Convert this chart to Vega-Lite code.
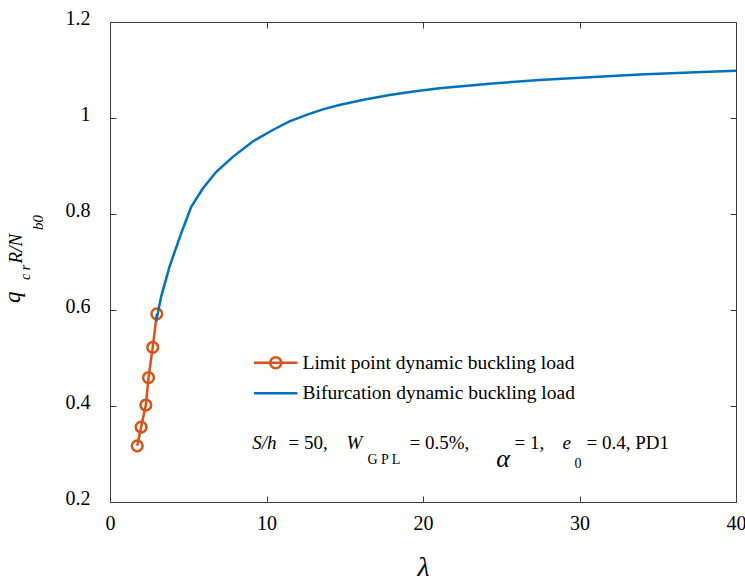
{
  "$schema": "https://vega.github.io/schema/vega-lite/v6.json",
  "autosize": {"type": "none"},
  "padding": {"left": 110, "top": 22, "right": 9, "bottom": 78},
  "width": 626,
  "height": 480,
  "background": "white",
  "config": {
    "view": {"stroke": null},
    "font": "Liberation Serif, Times New Roman, serif",
    "axis": {"grid": false, "labelFlush": false, "labelOverlap": false, "labelBound": false, "domainColor": "#3a3a3a", "tickColor": "#3a3a3a", "domainWidth": 1, "tickWidth": 1, "labelFont": "Liberation Serif, Times New Roman, serif", "labelFontSize": 20, "labelColor": "#000000", "titleFont": "Liberation Serif, Times New Roman, serif", "titleColor": "#000000", "titleFontWeight": "normal"},
    "legend": {"labelFont": "Liberation Serif, Times New Roman, serif"},
    "text": {"font": "Liberation Serif, Times New Roman, serif"}
  },
  "datasets": {
    "limit": [
      {"lam": 1.74, "q": 0.317, "series": "Limit point dynamic buckling load"},
      {"lam": 1.99, "q": 0.356, "series": "Limit point dynamic buckling load"},
      {"lam": 2.29, "q": 0.402, "series": "Limit point dynamic buckling load"},
      {"lam": 2.46, "q": 0.459, "series": "Limit point dynamic buckling load"},
      {"lam": 2.73, "q": 0.522, "series": "Limit point dynamic buckling load"},
      {"lam": 2.99, "q": 0.592, "series": "Limit point dynamic buckling load"}
    ],
    "bif": [
      {"lam": 2.95, "q": 0.576, "series": "Bifurcation dynamic buckling load"},
      {"lam": 3.27, "q": 0.628, "series": "Bifurcation dynamic buckling load"},
      {"lam": 3.80, "q": 0.690, "series": "Bifurcation dynamic buckling load"},
      {"lam": 4.55, "q": 0.760, "series": "Bifurcation dynamic buckling load"},
      {"lam": 5.19, "q": 0.815, "series": "Bifurcation dynamic buckling load"},
      {"lam": 5.93, "q": 0.853, "series": "Bifurcation dynamic buckling load"},
      {"lam": 6.79, "q": 0.888, "series": "Bifurcation dynamic buckling load"},
      {"lam": 7.85, "q": 0.919, "series": "Bifurcation dynamic buckling load"},
      {"lam": 9.12, "q": 0.951, "series": "Bifurcation dynamic buckling load"},
      {"lam": 10.40, "q": 0.975, "series": "Bifurcation dynamic buckling load"},
      {"lam": 11.47, "q": 0.993, "series": "Bifurcation dynamic buckling load"},
      {"lam": 12.6, "q": 1.007, "series": "Bifurcation dynamic buckling load"},
      {"lam": 13.6, "q": 1.018, "series": "Bifurcation dynamic buckling load"},
      {"lam": 14.66, "q": 1.027, "series": "Bifurcation dynamic buckling load"},
      {"lam": 16.2, "q": 1.038, "series": "Bifurcation dynamic buckling load"},
      {"lam": 17.86, "q": 1.048, "series": "Bifurcation dynamic buckling load"},
      {"lam": 19.4, "q": 1.055, "series": "Bifurcation dynamic buckling load"},
      {"lam": 21.05, "q": 1.062, "series": "Bifurcation dynamic buckling load"},
      {"lam": 24.25, "q": 1.0715, "series": "Bifurcation dynamic buckling load"},
      {"lam": 27.44, "q": 1.079, "series": "Bifurcation dynamic buckling load"},
      {"lam": 30.64, "q": 1.085, "series": "Bifurcation dynamic buckling load"},
      {"lam": 33.83, "q": 1.0906, "series": "Bifurcation dynamic buckling load"},
      {"lam": 37.03, "q": 1.0948, "series": "Bifurcation dynamic buckling load"},
      {"lam": 40, "q": 1.0985, "series": "Bifurcation dynamic buckling load"}
    ]
  },
  "resolve": {"axis": {"x": "independent", "y": "independent"}},
  "layer": [
    {
      "data": {"name": "limit"},
      "mark": {"type": "line", "strokeWidth": 2.5, "clip": false},
      "encoding": {
        "x": {"field": "lam", "type": "quantitative", "scale": {"domain": [0, 40], "nice": false, "zero": false},
          "axis": {"orient": "bottom", "values": [0, 10, 20, 30, 40], "tickSize": -6, "labelPadding": 17, "title": "λ", "titleFontStyle": "italic", "titleFontSize": 28, "titlePadding": 20}},
        "y": {"field": "q", "type": "quantitative", "scale": {"domain": [0.2, 1.2], "nice": false, "zero": false},
          "axis": {"orient": "left", "values": [0.2, 0.4, 0.6, 0.8, 1, 1.2], "format": "~g", "tickSize": -6, "labelPadding": 26, "labelOffset": -4, "title": null}},
        "color": {"field": "series", "type": "nominal", "scale": {"domain": ["Limit point dynamic buckling load", "Bifurcation dynamic buckling load"], "range": ["#D95319", "#0072BD"]},
          "legend": {"orient": "none", "legendX": 156, "legendY": 331, "title": null, "padding": 0, "labelFontSize": 19.5, "labelColor": "#000000", "labelOffset": 17, "rowPadding": 8.5, "symbolSize": 196, "symbolStrokeWidth": 2.5, "labelLimit": 400}}
      }
    },
    {
      "data": {"name": "limit"},
      "mark": {"type": "point", "filled": false, "size": 115, "strokeWidth": 2.5, "opacity": 1, "clip": false},
      "encoding": {
        "x": {"field": "lam", "type": "quantitative", "scale": {"domain": [0, 40]}, "axis": null},
        "y": {"field": "q", "type": "quantitative", "scale": {"domain": [0.2, 1.2]}, "axis": null},
        "color": {"value": "#D95319"}
      }
    },
    {
      "data": {"name": "bif"},
      "mark": {"type": "line", "strokeWidth": 2.5, "clip": false},
      "encoding": {
        "x": {"field": "lam", "type": "quantitative", "scale": {"domain": [0, 40]},
          "axis": {"orient": "top", "values": [0, 10, 20, 30, 40], "tickSize": -6, "labels": false, "title": null}},
        "y": {"field": "q", "type": "quantitative", "scale": {"domain": [0.2, 1.2]},
          "axis": {"orient": "right", "values": [0.2, 0.4, 0.6, 0.8, 1, 1.2], "tickSize": -6, "labels": false, "title": null}},
        "color": {"field": "series", "type": "nominal",
          "legend": {"orient": "none", "legendX": 156, "legendY": 331, "title": null, "padding": 0, "labelFontSize": 19.5, "labelColor": "#000000", "labelOffset": 17, "rowPadding": 8.5, "symbolSize": 196, "symbolStrokeWidth": 2.5, "labelLimit": 400}}
      }
    },
    {
      "data": {"name": "limit"},
      "transform": [{"filter": "false"}],
      "mark": {"type": "point", "filled": false, "strokeWidth": 2.5, "opacity": 1},
      "encoding": {
        "x": {"field": "lam", "type": "quantitative", "scale": {"domain": [0, 40]}, "axis": null},
        "y": {"field": "q", "type": "quantitative", "scale": {"domain": [0.2, 1.2]}, "axis": null},
        "color": {"field": "series", "type": "nominal",
          "legend": {"orient": "none", "legendX": 156, "legendY": 331, "title": null, "padding": 0, "labelFontSize": 19.5, "labelColor": "#000000", "labelOffset": 17, "rowPadding": 8.5, "symbolSize": 196, "symbolStrokeWidth": 2.5, "labelLimit": 400}},
        "shape": {"field": "series", "type": "nominal",
          "scale": {"domain": ["Limit point dynamic buckling load", "Bifurcation dynamic buckling load"], "range": ["M-3.1,0H3.1M0.8,0A0.8,0.8 0 1,1 -0.8,0A0.8,0.8 0 1,1 0.8,0", "M-3.1,0H3.1"]},
          "legend": {"orient": "none", "legendX": 156, "legendY": 331, "title": null, "padding": 0, "labelFontSize": 19.5, "labelColor": "#000000", "labelOffset": 17, "rowPadding": 8.5, "symbolSize": 196, "symbolStrokeWidth": 2.5, "labelLimit": 400}},
        "size": {"value": 196}
      }
    },
    {
      "data": {"values": [{}]},
      "mark": {"type": "text", "text": "S/h", "fontStyle": "italic", "fontSize": 19, "align": "left", "baseline": "alphabetic", "color": "#000000"},
      "encoding": {"x": {"datum": 9.09, "type": "quantitative", "scale": {"domain": [0, 40]}, "axis": null}, "y": {"datum": 0.3104, "type": "quantitative", "scale": {"domain": [0.2, 1.2]}, "axis": null}}
    },
    {
      "data": {"values": [{}]},
      "mark": {"type": "text", "text": "= 50,", "fontSize": 19, "align": "left", "baseline": "alphabetic", "color": "#000000"},
      "encoding": {"x": {"datum": 11.41, "type": "quantitative", "scale": {"domain": [0, 40]}, "axis": null}, "y": {"datum": 0.3104, "type": "quantitative", "scale": {"domain": [0.2, 1.2]}, "axis": null}}
    },
    {
      "data": {"values": [{}]},
      "mark": {"type": "text", "text": "W", "fontStyle": "italic", "fontSize": 19, "align": "left", "baseline": "alphabetic", "color": "#000000"},
      "encoding": {"x": {"datum": 15.11, "type": "quantitative", "scale": {"domain": [0, 40]}, "axis": null}, "y": {"datum": 0.3104, "type": "quantitative", "scale": {"domain": [0.2, 1.2]}, "axis": null}}
    },
    {
      "data": {"values": [{}]},
      "mark": {"type": "text", "text": "G P L", "fontSize": 14, "align": "left", "baseline": "alphabetic", "color": "#000000"},
      "encoding": {"x": {"datum": 16.45, "type": "quantitative", "scale": {"domain": [0, 40]}, "axis": null}, "y": {"datum": 0.2792, "type": "quantitative", "scale": {"domain": [0.2, 1.2]}, "axis": null}}
    },
    {
      "data": {"values": [{}]},
      "mark": {"type": "text", "text": "= 0.5%,", "fontSize": 19, "align": "left", "baseline": "alphabetic", "color": "#000000"},
      "encoding": {"x": {"datum": 19.14, "type": "quantitative", "scale": {"domain": [0, 40]}, "axis": null}, "y": {"datum": 0.3104, "type": "quantitative", "scale": {"domain": [0.2, 1.2]}, "axis": null}}
    },
    {
      "data": {"values": [{}]},
      "mark": {"type": "text", "text": "α", "fontStyle": "italic", "fontSize": 26, "align": "left", "baseline": "alphabetic", "color": "#000000"},
      "encoding": {"x": {"datum": 24.68, "type": "quantitative", "scale": {"domain": [0, 40]}, "axis": null}, "y": {"datum": 0.2729, "type": "quantitative", "scale": {"domain": [0.2, 1.2]}, "axis": null}}
    },
    {
      "data": {"values": [{}]},
      "mark": {"type": "text", "text": "= 1,", "fontSize": 19, "align": "left", "baseline": "alphabetic", "color": "#000000"},
      "encoding": {"x": {"datum": 25.85, "type": "quantitative", "scale": {"domain": [0, 40]}, "axis": null}, "y": {"datum": 0.3104, "type": "quantitative", "scale": {"domain": [0.2, 1.2]}, "axis": null}}
    },
    {
      "data": {"values": [{}]},
      "mark": {"type": "text", "text": "e", "fontStyle": "italic", "fontSize": 19, "align": "left", "baseline": "alphabetic", "color": "#000000"},
      "encoding": {"x": {"datum": 28.91, "type": "quantitative", "scale": {"domain": [0, 40]}, "axis": null}, "y": {"datum": 0.3104, "type": "quantitative", "scale": {"domain": [0.2, 1.2]}, "axis": null}}
    },
    {
      "data": {"values": [{}]},
      "mark": {"type": "text", "text": "0", "fontSize": 14, "align": "left", "baseline": "alphabetic", "color": "#000000"},
      "encoding": {"x": {"datum": 29.68, "type": "quantitative", "scale": {"domain": [0, 40]}, "axis": null}, "y": {"datum": 0.2708, "type": "quantitative", "scale": {"domain": [0.2, 1.2]}, "axis": null}}
    },
    {
      "data": {"values": [{}]},
      "mark": {"type": "text", "text": "= 0.4, PD1", "fontSize": 19, "align": "left", "baseline": "alphabetic", "color": "#000000"},
      "encoding": {"x": {"datum": 30.45, "type": "quantitative", "scale": {"domain": [0, 40]}, "axis": null}, "y": {"datum": 0.3104, "type": "quantitative", "scale": {"domain": [0.2, 1.2]}, "axis": null}}
    },
    {
      "data": {"values": [{}]},
      "mark": {"type": "text", "text": "q", "angle": 270, "fontStyle": "italic", "fontSize": 23, "align": "left", "baseline": "alphabetic", "color": "#000000"},
      "encoding": {"x": {"datum": -5.73, "type": "quantitative", "scale": {"domain": [0, 40]}, "axis": null}, "y": {"datum": 0.6146, "type": "quantitative", "scale": {"domain": [0.2, 1.2]}, "axis": null}}
    },
    {
      "data": {"values": [{}]},
      "mark": {"type": "text", "text": "c r", "angle": 270, "fontStyle": "italic", "fontSize": 14, "align": "left", "baseline": "alphabetic", "color": "#000000"},
      "encoding": {"x": {"datum": -5.09, "type": "quantitative", "scale": {"domain": [0, 40]}, "axis": null}, "y": {"datum": 0.6625, "type": "quantitative", "scale": {"domain": [0.2, 1.2]}, "axis": null}}
    },
    {
      "data": {"values": [{}]},
      "mark": {"type": "text", "text": "R/N", "angle": 270, "fontStyle": "italic", "fontSize": 19, "align": "left", "baseline": "alphabetic", "color": "#000000"},
      "encoding": {"x": {"datum": -5.65, "type": "quantitative", "scale": {"domain": [0, 40]}, "axis": null}, "y": {"datum": 0.697, "type": "quantitative", "scale": {"domain": [0.2, 1.2]}, "axis": null}}
    },
    {
      "data": {"values": [{}]},
      "mark": {"type": "text", "text": "b0", "angle": 270, "fontStyle": "italic", "fontSize": 15, "align": "left", "baseline": "alphabetic", "color": "#000000"},
      "encoding": {"x": {"datum": -4.3, "type": "quantitative", "scale": {"domain": [0, 40]}, "axis": null}, "y": {"datum": 0.7667, "type": "quantitative", "scale": {"domain": [0.2, 1.2]}, "axis": null}}
    }
  ]
}
